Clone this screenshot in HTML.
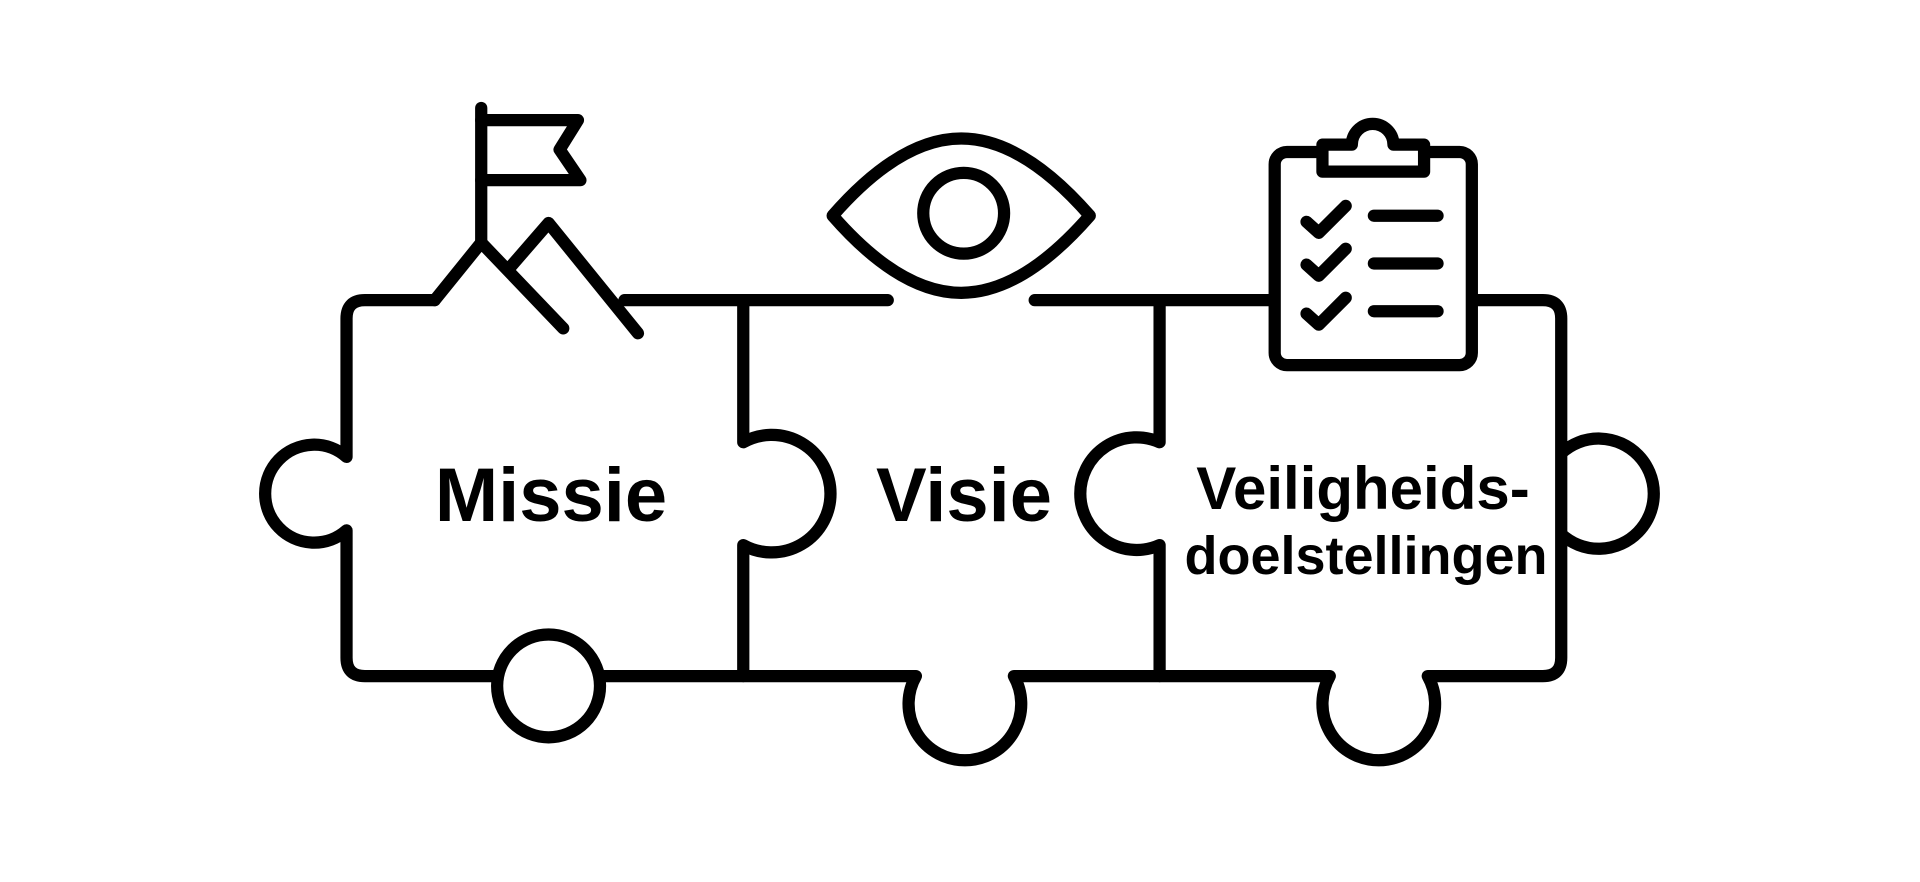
<!DOCTYPE html>
<html><head><meta charset="utf-8"><style>
html,body{margin:0;padding:0;background:#fff}
body{position:relative;width:1920px;height:882px;overflow:hidden}
svg{display:block;position:absolute;left:0;top:0}
.t{position:absolute;font-family:"Liberation Sans",Arial,sans-serif;font-weight:bold;color:#000;text-align:center;white-space:nowrap;line-height:1;transform:translateX(-50%)}
</style></head><body>
<svg width="1920" height="882" viewBox="0 0 1568 720" xmlns="http://www.w3.org/2000/svg">
<g fill="none" stroke="#000" stroke-width="10" stroke-linecap="round" stroke-linejoin="round">
<path d="M355 245 L298 245 Q283 245 283 260 L283 373 A40 40 0 1 0 283 433 L283 537 Q283 552 298 552 L748 552 A46 46 0 1 0 828 552 L1086 552 A46 46 0 1 0 1166 552 L1260 552 Q1275 552 1275 537 L1275 370 A45 45 0 1 1 1275 436 L1275 260 Q1275 245 1260 245 L1203 245"/>
<path d="M510 245 L725 245"/>
<path d="M845 245 L1040 245"/>
<path d="M607 245 L607 361 A48 48 0 1 1 607 445 L607 552"/>
<path d="M947 245 L947 361 A46 46 0 1 0 947 445 L947 552"/>
<circle cx="448" cy="560" r="42" fill="#fff"/>
<path d="M355 245 L393 198 L460 268"/>
<path d="M415 220 L448 182 L521 272"/>
<path d="M393 198 L393 88"/>
<path d="M393 98 L472 98 L457 122 L474 147 L393 147"/>
<path d="M680 176 Q735 113 785 113 Q835 113 890 176 Q835 239 785 239 Q735 239 680 176 Z"/>
<circle cx="787" cy="174" r="33"/>
<rect x="1041" y="124" width="161" height="174" rx="10" fill="#fff"/>
<path d="M1080 118 L1080 140 L1163 140 L1163 118 L1138 118 A17 17 0 1 0 1104 118 Z" fill="#fff"/>
<path d="M1067 181 L1077 190 L1099 168"/>
<path d="M1067 216 L1077 225 L1099 203"/>
<path d="M1067 256 L1077 265 L1099 243"/>
</g>
<g stroke="#000" stroke-width="10" stroke-linecap="round">
<line x1="1122" y1="176" x2="1174" y2="176"/>
<line x1="1122" y1="215" x2="1174" y2="215"/>
<line x1="1122" y1="254" x2="1174" y2="254"/>
</g>
</svg>
<div class="t" style="left:551px;top:458px;font-size:76px">Missie</div>
<div class="t" style="left:964px;top:458px;font-size:76px">Visie</div>
<div class="t" style="left:1363px;top:459px;font-size:60px">Veiligheids-</div>
<div class="t" style="left:1366px;top:529px;font-size:54px">doelstellingen</div>
</body></html>
